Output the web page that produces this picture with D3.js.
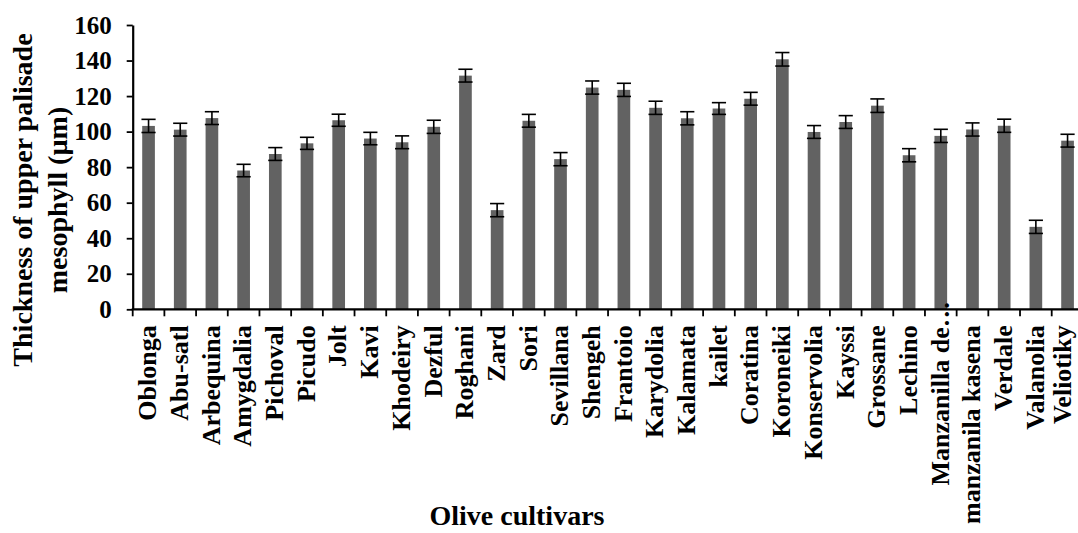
<!DOCTYPE html>
<html>
<head>
<meta charset="utf-8">
<script src="https://cdn.jsdelivr.net/npm/d3@7"></script>
<style>
  body { margin: 0; background: #fff; }
  svg { display: block; }
  text { font-family: "Liberation Serif", "Times New Roman", serif; font-weight: bold; fill: #000; }
</style>
</head>
<body>
<svg id="chart" width="1078" height="533"></svg>
<script>
const cultivars = [
  "Oblonga", "Abu-satl", "Arbequina", "Amygdalia", "Pichoval", "Picudo", "Jolt", "Kavi",
  "Khodeiry", "Dezful", "Roghani", "Zard", "Sori", "Sevillana", "Shengeh", "Frantoio",
  "Karydolia", "Kalamata", "kailet", "Coratina", "Koroneiki", "Konservolia", "Kayssi",
  "Grossane", "Lechino", "Manzanilla de…", "manzanila kasena", "Verdale", "Valanolia", "Veliotiky"
];
const thickness = [
  103.2, 101.1, 107.6, 78.1, 87.4, 93.4, 106.4, 96.1, 94.0, 102.7,
  131.5, 55.8, 106.1, 84.5, 124.8, 123.5, 113.4, 107.5, 113.0, 118.5,
  140.7, 99.8, 105.4, 114.6, 86.7, 97.6, 101.2, 103.3, 46.4, 94.9
];
const stdErr = [
  3.7, 3.6, 3.6, 3.5, 3.6, 3.4, 3.4, 3.5, 3.6, 3.7,
  3.6, 3.7, 3.6, 3.7, 3.7, 3.7, 3.7, 3.7, 3.3, 3.6,
  3.8, 3.6, 3.6, 3.8, 3.7, 3.7, 3.7, 3.7, 3.7, 3.6
];
const yTicks = [0, 20, 40, 60, 80, 100, 120, 140, 160];

const data = cultivars.map((name, i) => ({ name: name, value: thickness[i], err: stdErr[i] }));

const svg = d3.select("#chart");
const W = +svg.attr("width");

// plot runs a little past the right edge, like the original figure
const x = d3.scaleBand().domain(cultivars).range([132.7, 1083.4]).padding(0);
const y = d3.scaleLinear().domain([0, 160]).range([309.3, 25]);

const barW = x.bandwidth() * 0.4;
const capW = barW + 1.5;

// bars
svg.append("g")
  .selectAll("rect")
  .data(data)
  .join("rect")
  .attr("x", (d) => x(d.name) + (x.bandwidth() - barW) / 2)
  .attr("y", (d) => y(d.value))
  .attr("width", barW)
  .attr("height", (d) => y(0) - y(d.value))
  .attr("fill", "#626262");

// error bars
const eb = svg.append("g")
  .attr("stroke", "#000")
  .attr("stroke-width", 1.6)
  .selectAll("g")
  .data(data)
  .join("g")
  .attr("transform", (d) => `translate(${x(d.name) + x.bandwidth() / 2},0)`);

eb.append("line")
  .attr("y1", (d) => y(d.value + d.err))
  .attr("y2", (d) => y(d.value - d.err));
eb.append("line")
  .attr("x1", -capW / 2).attr("x2", capW / 2)
  .attr("y1", (d) => y(d.value + d.err))
  .attr("y2", (d) => y(d.value + d.err));
eb.append("line")
  .attr("x1", -capW / 2).attr("x2", capW / 2)
  .attr("y1", (d) => y(d.value - d.err))
  .attr("y2", (d) => y(d.value - d.err));

// y axis
const yAxis = svg.append("g")
  .attr("transform", `translate(${x.range()[0]},0)`)
  .call(d3.axisLeft(y).tickValues(yTicks).tickSize(6).tickSizeOuter(0).tickPadding(15));
yAxis.select(".domain").attr("stroke-width", 2.2);
yAxis.selectAll(".tick line").attr("stroke-width", 1.8);
yAxis.selectAll(".tick text")
  .attr("font-size", 25)
  .attr("font-family", "Liberation Serif, Times New Roman, serif")
  .attr("font-weight", "bold");

// x axis: baseline plus ticks between categories
const xAxis = svg.append("g");
xAxis.append("line")
  .attr("x1", x.range()[0] - 1)
  .attr("x2", x.range()[1])
  .attr("y1", y(0))
  .attr("y2", y(0))
  .attr("stroke", "#000")
  .attr("stroke-width", 2.2);
xAxis.selectAll(".xt")
  .data(cultivars.concat([null]))
  .join("line")
  .attr("class", "xt")
  .attr("x1", (d, i) => x.range()[0] + i * x.step())
  .attr("x2", (d, i) => x.range()[0] + i * x.step())
  .attr("y1", y(0))
  .attr("y2", y(0) + 7)
  .attr("stroke", "#000")
  .attr("stroke-width", 1.8);

// category labels, rotated
xAxis.selectAll(".xl")
  .data(cultivars)
  .join("text")
  .attr("class", "xl")
  .attr("font-size", 26)
  .attr("text-anchor", "end")
  .attr("dy", "0.3em")
  .attr("transform", (d) => {
    // the truncated label sits higher in the original
    const top = d.endsWith("…") ? y(0) - 8 : y(0) + 16;
    // keep the last label inside the page
    const cx = Math.min(x(d) + x.bandwidth() / 2, W - 15);
    return `translate(${cx},${top}) rotate(-90)`;
  })
  .text((d) => d);

// axis titles
svg.append("text")
  .attr("font-size", 28)
  .attr("text-anchor", "middle")
  .attr("x", 517)
  .attr("y", 525)
  .text("Olive cultivars");

const yTitle = svg.append("text")
  .attr("font-size", 28)
  .attr("text-anchor", "middle")
  .attr("transform", "translate(0,200) rotate(-90)");
yTitle.append("tspan").attr("x", 0).attr("y", 32).text("Thickness of upper palisade");
yTitle.append("tspan").attr("x", 0).attr("y", 67).text("mesophyll (µm)");
</script>
</body>
</html>
